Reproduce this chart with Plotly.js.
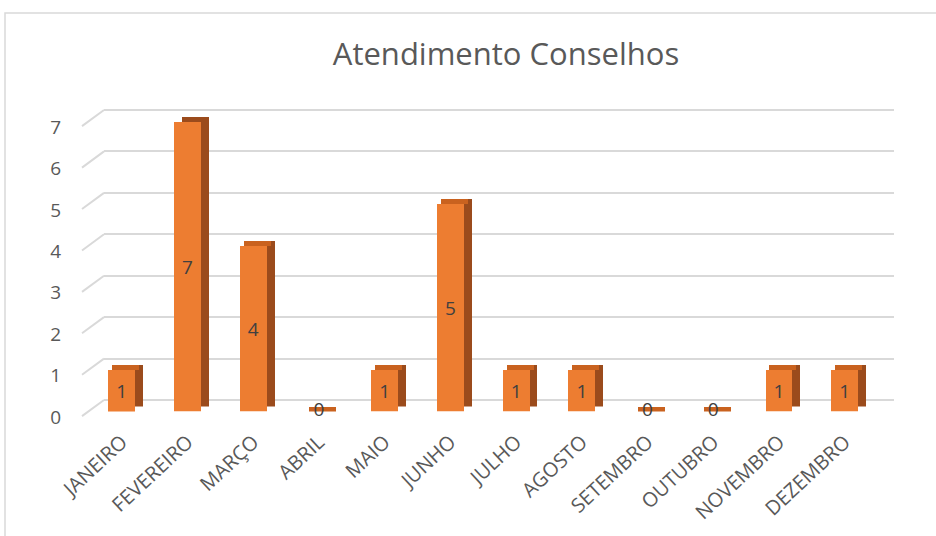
<!DOCTYPE html>
<html>
<head>
<meta charset="utf-8">
<script src="https://cdn.plot.ly/plotly-3.0.1.min.js"></script>
<style>html,body{margin:0;padding:0;background:#fff;}#chart{width:936px;height:536px;}</style>
</head>
<body>
<div id="chart"></div>
<script>
const months = ["JANEIRO","FEVEREIRO","MARÇO","ABRIL","MAIO","JUNHO","JULHO","AGOSTO","SETEMBRO","OUTUBRO","NOVEMBRO","DEZEMBRO"];
const atendimentos = [1,7,4,0,1,5,1,1,0,0,1,1];
const chartTitle = "Atendimento Conselhos";
const yTicks = [0,1,2,3,4,5,6,7];

const FONT = "'Open Sans', 'Noto Sans', sans-serif";
const depth = 0.12;          // visual depth of bar top face (value units)
const floorDepth = 0.39;     // visual depth of the floor (value units)
const barW = 0.41;

const zeroMonths = months.filter((m,i)=>atendimentos[i]===0);
const zeroVals = atendimentos.filter(v=>v===0);

// diagonal ends of gridlines (front -> back), built from tick values
const diagX = [], diagY = [];
yTicks.forEach(t=>{ diagX.push(0,1,null); diagY.push(t-floorDepth,t,null); });

const traces = [
  { // anchor trace for grid subplot
    type:"scatter", mode:"markers", x:months, y:atendimentos, xaxis:"x", yaxis:"y",
    marker:{opacity:0}, hoverinfo:"skip", showlegend:false
  },
  { // diagonal grid ends
    type:"scatter", mode:"lines", x:diagX, y:diagY, xaxis:"x2", yaxis:"y5",
    line:{color:"#D9D9D9", width:2}, connectgaps:false, hoverinfo:"skip", showlegend:false
  },
  { // dark side face
    type:"bar", x:months, y:atendimentos, xaxis:"x", yaxis:"y2",
    width:barW, offset:-barW/2+0.12,
    marker:{color:"#9B4B1C"}, hoverinfo:"skip", showlegend:false
  },
  { // top face
    type:"bar", x:months, y:atendimentos.map(()=>depth), base:atendimentos,
    xaxis:"x", yaxis:"y3", width:barW, offset:-barW/2+0.06,
    marker:{color:"#C9621F"}, hoverinfo:"skip", showlegend:false
  },
  { // front face
    type:"bar", x:months, y:atendimentos, xaxis:"x", yaxis:"y3",
    width:barW, offset:-barW/2,
    marker:{color:"#ED7D31"},
    text:atendimentos.map(v=>v===0?"":String(v)),
    textposition:"inside", insidetextanchor:"middle", textangle:0,
    textfont:{family:FONT, size:19, color:"#404040"},
    hoverinfo:"skip", showlegend:false
  },
  { // zero labels
    type:"scatter", mode:"text", x:zeroMonths, y:zeroVals, xaxis:"x", yaxis:"y3",
    text:zeroVals.map(String), textposition:"middle center",
    textfont:{family:FONT, size:19, color:"#404040"},
    cliponaxis:false, hoverinfo:"skip", showlegend:false
  },
  { // anchor trace for tick-label axis
    type:"scatter", mode:"markers", x:months, y:atendimentos, xaxis:"x", yaxis:"y4",
    marker:{opacity:0}, hoverinfo:"skip", showlegend:false
  }
];

const PX = 41.43; // px per unit (for domain placement only)
const gridDomain = [1-(400+0.5*PX)/536, 1-(400-7.3*PX)/536];
const layout = {
  width:936, height:536,
  margin:{l:0,r:0,t:0,b:0},
  paper_bgcolor:"#ffffff", plot_bgcolor:"rgba(0,0,0,0)",
  font:{family:FONT, color:"#595959"},
  title:{text:chartTitle, x:506/936, xanchor:"center", xref:"paper",
         y:1-54/536, yanchor:"middle", yref:"paper",
         font:{family:FONT, size:31, color:"#595959"}},
  bargap:0, barmode:"overlay",
  xaxis:{type:"category", domain:[104/936, 894/936], range:[-0.27, 11.75],
         anchor:"y3", tickangle:-43, showgrid:false, zeroline:false, showline:false,
         ticks:"outside", ticklen:10, tickcolor:"rgba(0,0,0,0)", automargin:false,
         tickfont:{family:FONT, size:20, color:"#595959"}},
  xaxis2:{domain:[0,1], range:[-82/22, (936-82)/22], visible:false, anchor:"y5"},
  yaxis:{domain:gridDomain, range:[-0.5,7.3], tickvals:yTicks,
         showticklabels:false, gridcolor:"#D9D9D9", gridwidth:2, zeroline:false,
         showline:false, ticks:"", anchor:"x"},
  yaxis5:{domain:gridDomain, range:[-0.5,7.3], visible:false, showgrid:false, anchor:"x2"},
  yaxis2:{domain:[1-406.5/536, 1-116.5/536], range:[0,7], visible:false, anchor:"x", showgrid:false},
  yaxis3:{domain:[1-411.5/536, 1-121.5/536], range:[0,7], visible:false, anchor:"x", showgrid:false},
  yaxis4:{domain:[1-417/536, 1-127/536], range:[0,7], tickvals:yTicks, anchor:"x",
          showgrid:false, zeroline:false, showline:false,
          ticks:"outside", ticklen:38, tickcolor:"rgba(0,0,0,0)", automargin:false,
          tickfont:{family:FONT, size:19, color:"#595959"}},
  shapes:[{type:"rect", xref:"paper", yref:"paper", x0:5/936, x1:1.02, y0:-0.1, y1:1-13/536,
           line:{color:"#D9D9D9", width:1.5}, fillcolor:"rgba(0,0,0,0)", layer:"below"}]
};

Plotly.newPlot("chart", traces, layout, {staticPlot:true, displayModeBar:false});
</script>
</body>
</html>
